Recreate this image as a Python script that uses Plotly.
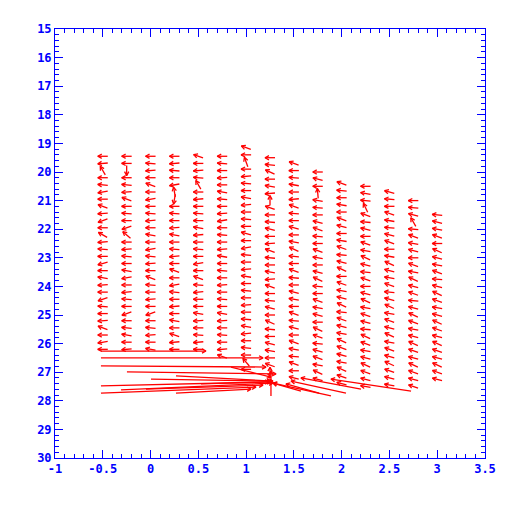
import math
import plotly.graph_objects as go

# ---------------- data ----------------
col_x = [-0.5, -0.25, 0.0, 0.25, 0.5, 0.75, 1.0, 1.25, 1.5, 1.75, 2.0, 2.25, 2.5, 2.75, 3.0]
col_top = [19.45, 19.45, 19.45, 19.45, 19.45, 19.45, 19.15, 19.5, 19.7, 20.0, 20.4, 20.5, 20.7, 21.0, 21.5]
row_step = 0.25

# direction of each small vector (degrees, counter-clockwise from +x as seen on the page)
col_ang = [
    [180,185,120,180,175,190,180,160,185,200,180,150,185,175,180,195,180,170,185,180,200,175,180,185,160,180,190,180],
    [180,180,270,180,175,185,160,180,175,180,200,140,180,185,175,180,170,190,180,185,175,180,200,180,175,170,180,185],
    [180,175,185,180,160,180,190,180,175,185,180,170,180,190,175,185,180,160,175,180,185,180,200,180,175,185,180,170],
    [180,185,175,180,190,100,260,180,175,180,185,170,180,175,185,180,160,180,190,175,180,185,180,170,180,160,185,180],
    [160,180,185,175,120,180,185,180,175,180,170,185,180,175,180,190,180,160,175,185,180,180,170,185,180,175,185,180],
    [180,175,180,185,180,170,175,180,185,190,180,175,180,185,170,180,175,180,185,180,175,180,170,185,180,175,180,185,160],
    [160,180,110,180,185,175,180,170,185,180,175,180,165,180,190,175,180,185,170,180,175,180,185,180,175,170,185,180,175,180,130,180],
    [180,175,155,180,170,185,90,160,180,175,165,180,185,160,175,180,170,185,160,180,175,165,180,155,175,180,165,170,180,160,90],
    [160,180,175,170,180,185,160,175,180,165,180,170,155,175,180,160,175,180,165,170,180,160,175,165,180,160,170,175,160,180,165],
    [180,165,180,95,170,175,180,165,160,175,180,160,170,180,165,155,175,180,160,170,165,180,155,160,175,165,160,170,155,165],
    [160,175,180,170,180,160,165,180,170,160,175,165,155,180,160,170,165,155,175,160,165,170,155,160,165,170,155,160,165],
    [180,170,175,115,160,175,165,180,160,170,155,165,175,160,180,165,155,170,160,165,175,155,160,170,165,155,160,165,170],
    [165,175,180,160,170,175,165,160,180,170,155,165,170,160,175,165,155,170,160,165,155,170,160,165,155,160,165,170],
    [180,175,165,120,175,160,170,165,180,160,170,155,165,160,175,165,155,160,170,165,155,160,165,155,160,165,160],
    [175,165,170,160,180,155,165,170,160,175,165,155,160,170,165,155,160,165,155,160,165,155,160,165],
]

# large vectors near the singular point (tail x, tail y, u, v in data units)
long_x = [-0.519, -0.519, -0.519, -0.247, 0.005, -0.519, -0.309, -0.519, 0.266, 0.528, -0.048, 0.842, 0.266,
          1.888, 2.045, 2.726, 2.202, 1.260, 1.574, 1.763]
long_y = [26.26, 26.50, 26.78, 26.99, 27.24, 27.48, 27.62, 27.73, 27.13, 27.41, 27.59, 26.82, 27.73,
          27.83, 27.73, 27.66, 27.59, 27.83, 27.66, 27.73]
long_u = [1.099, 1.696, 1.727, 1.560, 1.255, 1.759, 1.590, 1.622, 1.015, 0.732, 1.225, 0.418, 0.785,
          -0.607, -0.575, -0.838, -0.628, 0.0, -0.293, -0.346]
long_v = [0.0, 0.0, 0.04, 0.07, 0.07, -0.14, -0.24, -0.21, 0.18, -0.07, -0.14, 0.35, -0.14,
          -0.45, -0.42, -0.42, -0.39, -0.87, -0.28, -0.32]

x_ticks = [-1, -0.5, 0, 0.5, 1, 1.5, 2, 2.5, 3, 3.5]
x_tick_text = ["-1", "-0.5", "0", "0.5", "1", "1.5", "2", "2.5", "3", "3.5"]
y_ticks = list(range(15, 31))

# ---------------- geometry helpers ----------------
X_RANGE = (-1, 3.5)
Y_RANGE = (30, 15)
PLOT_W, PLOT_H = 430, 429
SX = PLOT_W / (X_RANGE[1] - X_RANGE[0])
SY = PLOT_H / (Y_RANGE[0] - Y_RANGE[1])
ARROW_PX = 10.0
HEAD_PX = 4.5
HEAD_ANG = math.radians(28)

xs, ys = [], []


def add_arrow(x0, y0, x1, y1):
    dx = (x1 - x0) * SX
    dy = -(y1 - y0) * SY
    a = math.atan2(dy, dx)
    xs.extend([x0, x1, None])
    ys.extend([y0, y1, None])
    pts = []
    for s in (1, -1):
        b = a + math.pi - s * HEAD_ANG
        pts.append((x1 + HEAD_PX * math.cos(b) / SX, y1 - HEAD_PX * math.sin(b) / SY))
    xs.extend([pts[0][0], x1, pts[1][0], None])
    ys.extend([pts[0][1], y1, pts[1][1], None])


for cx, top, angs in zip(col_x, col_top, col_ang):
    for k, deg in enumerate(angs):
        cy = top + k * row_step
        r = math.radians(deg)
        hx = 0.5 * ARROW_PX * math.cos(r) / SX
        hy = -0.5 * ARROW_PX * math.sin(r) / SY
        add_arrow(cx - hx, cy - hy, cx + hx, cy + hy)

for x0, y0, u, v in zip(long_x, long_y, long_u, long_v):
    add_arrow(x0, y0, x0 + u, y0 + v)

fig = go.Figure()
fig.add_trace(go.Scatter(x=xs, y=ys, mode="lines",
                         line=dict(color="#ff0000", width=1.3),
                         hoverinfo="skip", showlegend=False))

BLUE = "#0000ff"
tickfont = dict(family="DejaVu Sans Mono", size=12, color=BLUE, weight="bold")
fig.update_xaxes(range=list(X_RANGE), tickmode="array", tickvals=x_ticks, ticktext=x_tick_text,
                 ticks="inside", ticklen=8, tickcolor=BLUE, tickwidth=1,
                 minor=dict(ticks="inside", dtick=0.1, ticklen=4, tickcolor=BLUE, tickwidth=1),
                 showline=True, linecolor=BLUE, linewidth=1, mirror="allticks",
                 showgrid=False, zeroline=False, tickfont=tickfont, automargin=False)
fig.update_yaxes(range=list(Y_RANGE), tickmode="array", tickvals=y_ticks,
                 ticks="inside", ticklen=8, tickcolor=BLUE, tickwidth=1,
                 minor=dict(ticks="inside", dtick=0.2, ticklen=4, tickcolor=BLUE, tickwidth=1),
                 showline=True, linecolor=BLUE, linewidth=1, mirror="allticks",
                 showgrid=False, zeroline=False, tickfont=tickfont, automargin=False)
fig.update_layout(width=505, height=505, margin=dict(l=47, r=28, t=21, b=55),
                  paper_bgcolor="white", plot_bgcolor="white")
fig.write_html("out.html")
